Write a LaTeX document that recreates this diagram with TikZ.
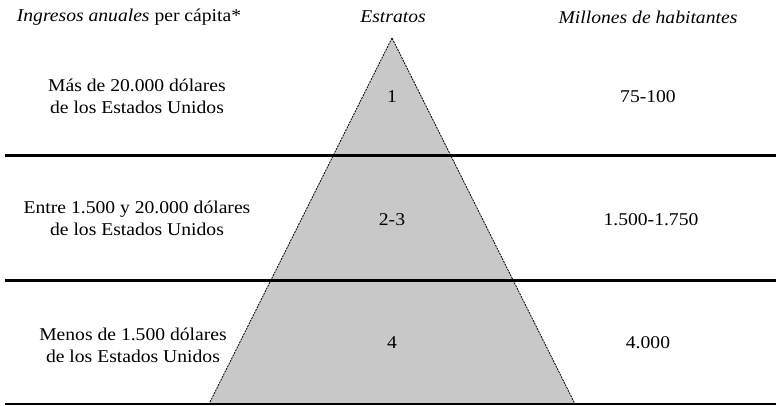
\documentclass[tikz,border=0pt]{standalone}
\usepackage{fontspec}
\setmainfont[FakeStretch=1.09]{Liberation Serif}
\usetikzlibrary{positioning, calc}
\definecolor{pyrfill}{RGB}{200,200,200}
\tikzset{
  head/.style={font=\fontsize{18}{21}\selectfont},
  row/.style={font=\fontsize{18}{22}\selectfont, align=center},
  rule/.style={line width=3pt},
  baserule/.style={line width=1.5pt},
  pyr/.style={fill=pyrfill, draw=black, line width=0.8pt, dash pattern=on 2pt off 1pt}
}

\begin{document}
\begin{tikzpicture}[x=1pt, y=-1pt]
  \useasboundingbox (0,0) rectangle (776,405);
  % pyramid
  \coordinate (apex) at (392,38);
  \coordinate (bl) at (209,404);
  \coordinate (br) at (575,404);
  \filldraw[pyr] (apex) -- (bl) -- (br) -- cycle;
  % rules between the strata
  \coordinate (r1w) at (5,155);  \coordinate (r1e) at (776,155);
  \coordinate (r2w) at (5,280);  \coordinate (r2e) at (776,280);
  \coordinate (r3w) at (5,404);  \coordinate (r3e) at (776,404);
  \draw[rule] (r1w) -- (r1e);
  \draw[rule] (r2w) -- (r2e);
  \draw[baserule] (r3w) -- (r3e);
  % headings
  \node[head] (hinc) at (129,17) {\textit{Ingresos anuales} per cápita*};
  \node[head] (hstr) at (393,17) {\textit{Estratos}};
  \node[head] (hpop) at (648,17) {\textit{Millones de habitantes}};
  % rows
  \node[row] (inc1) at (137,96)  {Más de 20.000 dólares\\de los Estados Unidos};
  \node[row] (inc2) at (137,218) {Entre 1.500 y 20.000 dólares\\de los Estados Unidos};
  \node[row] (inc3) at (133,345) {Menos de 1.500 dólares\\de los Estados Unidos};
  \node[row] (str1) at (392,97)  {1};
  \node[row] (str2) at (392,220) {2-3};
  \node[row] (str3) at (392,343) {4};
  \node[row] (pop1) at (648,97)  {75-100};
  \node[row] (pop2) at (651,220) {1.500-1.750};
  \node[row] (pop3) at (648,343) {4.000};
\end{tikzpicture}
\end{document}
